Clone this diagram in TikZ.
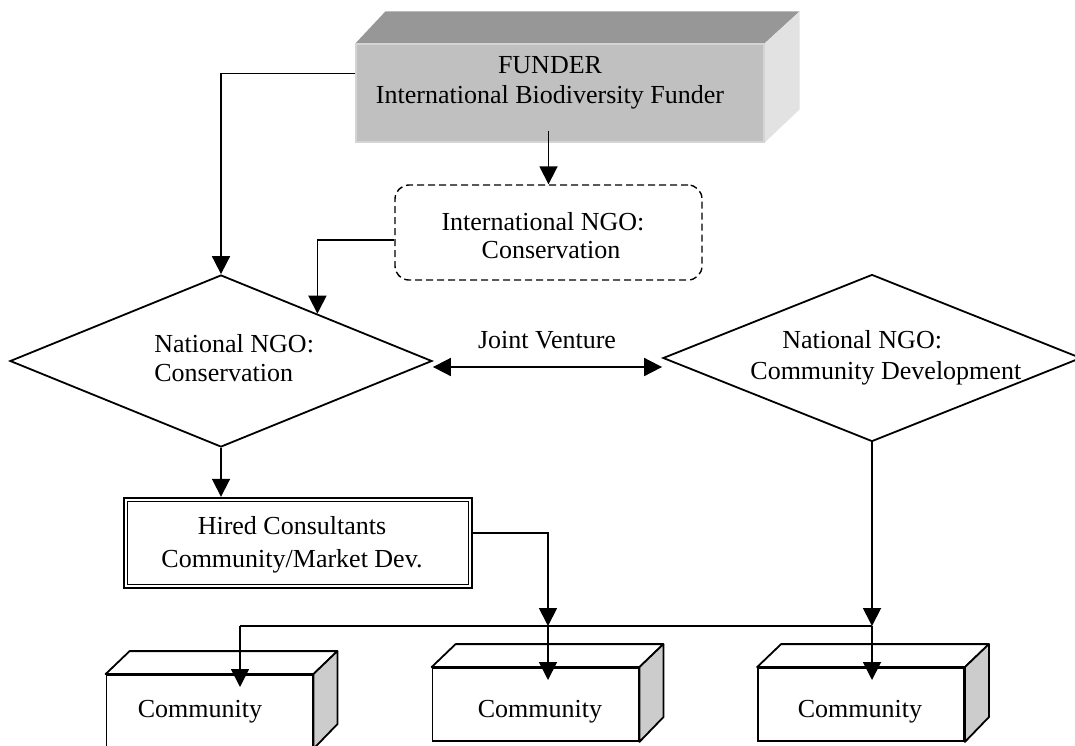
\documentclass[tikz,border=0pt]{standalone}
\usepackage{fontspec}
\setmainfont{Liberation Serif}
\usetikzlibrary{shapes.geometric,arrows.meta,calc}
\definecolor{fundfront}{HTML}{C0C0C0}
\definecolor{fundtop}{HTML}{979797}
\definecolor{fundside}{HTML}{E2E2E2}
\definecolor{fundedge}{HTML}{D4D4D4}
\definecolor{commside}{HTML}{CCCCCC}
\begin{document}
\begin{tikzpicture}[x=0.5pt,y=-0.5pt,
  every node/.style={font=\fontsize{13}{15}\selectfont},
  conn/.style={line width=0.9pt},
  arr/.style={conn,-{Triangle[width=9pt,length=9pt]}},
  dblarr/.style={conn,{Triangle[width=9pt,length=9pt]}-{Triangle[width=9pt,length=9pt]}},
  ngo/.style={diamond,draw,line width=0.9pt,inner sep=0pt},
  commfront/.style={draw,fill=white,line width=0.9pt,inner sep=0pt,minimum width=103pt,minimum height=36.5pt},
  commface/.style={draw,line width=0.9pt,line join=round},
  lbl/.style={inner sep=0pt,align=center}
]
\useasboundingbox (0,0) rectangle (1075,745);

% ---------- Funder (3D grey box)
\node[fill=fundfront,draw=fundedge,line width=0.6pt,inner sep=0pt,minimum width=204pt,minimum height=49pt] (funder) at (560,93) {};
\fill[fundtop] (funder.north west) -- ++(30,-32) -- ($(funder.north east)+(35,-32)$) -- (funder.north east) -- cycle;
\fill[fundside] (funder.north east) -- ++(35,-32) -- ++(0,98) -- (funder.south east) -- cycle;
\draw[fundedge,line width=0.6pt] (funder.north west) rectangle (funder.south east);
\node[lbl,font=\fontsize{13}{15}\selectfont] (funderlbl) at (550,83) {FUNDER\\International Biodiversity Funder};

% ---------- International NGO
\node[draw,dashed,dash pattern=on 3.5pt off 2pt,rounded corners=7pt,line width=0.7pt,inner sep=0pt,minimum width=153.5pt,minimum height=47.5pt] (ingo) at (548.5,232.5) {};
\node[lbl,font=\fontsize{13}{14}\selectfont] (ingolbl) at (543,236) {International NGO:\\\hspace*{8pt}Conservation};

% ---------- National NGOs (diamonds)
\node[ngo,minimum width=211pt,minimum height=86pt] (ngoC) at (221,361) {};
\node[inner sep=0pt,align=left,anchor=west,font=\fontsize{13}{14.5}\selectfont] (ngoClbl) at (154,358) {National NGO:\\Conservation};
\node[ngo,minimum width=209pt,minimum height=83.5pt] (ngoD) at (872,358) {};
\node[inner sep=0pt,align=left,anchor=west,font=\fontsize{13}{15.5}\selectfont] (ngoDlbl) at (750,358) {\hspace*{16pt}National NGO:\\Community Development};

\node[lbl] (jv) at (547,340) {Joint Venture};

% ---------- Hired consultants (double border)
\node[draw,line width=1.2pt,inner sep=0pt,minimum width=174pt,minimum height=45pt] (cons) at (298,543) {};
\draw[line width=0.5pt] ($(cons.north west)+(5,5)$) rectangle ($(cons.south east)+(-5,-5)$);
\node[lbl,font=\fontsize{13}{16.5}\selectfont] (conslbl) at (292,545) {Hired Consultants\\Community/Market Dev.};

% ---------- Communities (3D boxes)
\node[commfront] (com1) at (209.5,711.5) {};
\node[commfront] (com2) at (535.5,704.5) {};
\node[commfront] (com3) at (861,704.5) {};
\foreach \c in {com1,com2,com3}{
  \draw[commface,fill=white] (\c.north west) -- ++(24,-23) -- ($(\c.north east)+(24,-23)$) -- (\c.north east) -- cycle;
  \draw[commface,fill=commside] (\c.north east) -- ++(24,-23) -- ++(0,73) -- (\c.south east) -- cycle;
}
\node[lbl] (com1lbl) at (200,712) {Community};
\node[lbl] (com2lbl) at (540,712) {Community};
\node[lbl] (com3lbl) at (860,712) {Community};

% ---------- junction coordinates
\coordinate (jl) at (240,626);
\coordinate (jm) at (548,626);
\coordinate (jr) at (ngoD.south |- jm);
\coordinate (tl) at (240,687);
\coordinate (tm) at (548,680);
\coordinate (tr) at (jr |- tm);

% ---------- connectors
\draw[arr] ($(funder.north west)+(0,30)$) -| (ngoC.north);
\draw[arr] ([yshift=6pt]funder.south -| ingo.north) -- (ingo.north);
\draw[arr] ([yshift=-3.75pt]ingo.west) -| ($(ngoC.north)!0.455!(ngoC.east)$);
\draw[dblarr] ([yshift=-3pt]ngoC.east) -- ([yshift=-3pt]ngoC.east -| ngoD.west);
\draw[arr] (ngoC.south) -- (ngoC.south |- cons.north);
\draw[arr] ([yshift=5pt]cons.east) -| (jm);
\draw[arr] (ngoD.south) -- (jr);
\draw[conn] (jl) -- (jr);
\draw[arr] (jl) -- (tl);
\draw[arr] (jm) -- (tm);
\draw[arr] (jr) -- (tr);
\end{tikzpicture}
\end{document}
